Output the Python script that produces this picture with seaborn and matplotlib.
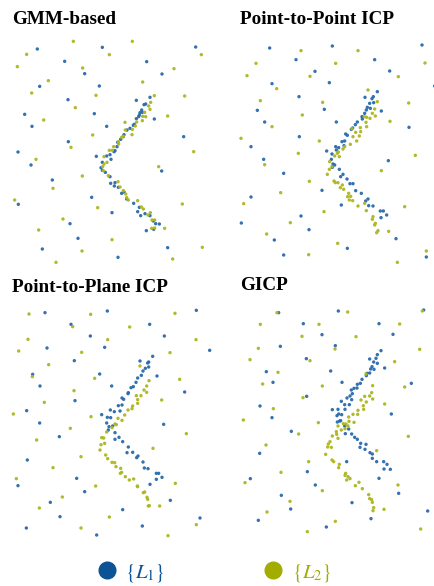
import matplotlib
matplotlib.use("Agg")
import matplotlib.pyplot as plt
import pandas as pd
import seaborn as sns
from matplotlib.lines import Line2D

COLOR_L1 = "#2a6aac"
COLOR_L2 = "#adb720"
LEGEND_L1 = "#0b5394"
LEGEND_L2 = "#a3ad00"

TITLES = ["GMM-based", "Point-to-Point ICP", "Point-to-Plane ICP", "GICP"]
LABELS = [r"$\{L_1\}$", r"$\{L_2\}$"]

# point coordinates per panel (panel-local units, y grows downwards)
GMM_L1 = [
    (112, 147), (307, 142), (587, 141), (194, 184), (440, 185), (254, 221), (486, 222),
    (119, 259), (298, 258), (204, 299), (409, 301), (74, 343), (283, 341), (96, 379),
    (320, 379), (551, 410), (205, 425), (54, 456), (289, 469), (93, 495), (485, 513),
    (157, 540), (275, 592), (55, 613), (336, 638), (210, 671), (439, 692), (234, 715),
    (127, 747), (503, 743), (354, 772), (463, 357),
    (450, 292), (437, 312), (432, 314), (425, 330), (420, 338), (427, 337), (418, 345),
    (409, 356), (416, 350), (403, 373), (400, 376), (390, 385), (381, 390), (372, 404),
    (370, 410), (362, 418), (353, 427), (351, 440), (345, 452), (342, 455), (330, 464),
    (320, 468), (333, 478), (307, 487), (303, 503), (307, 511), (316, 517), (330, 530),
    (332, 550), (345, 548), (343, 558), (355, 562), (365, 580), (372, 576), (380, 597),
    (401, 610), (418, 622), (413, 635), (422, 647), (435, 641), (450, 647), (460, 663),
    (467, 671), (478, 672), (461, 688),
]
GMM_L2 = [
    (220, 124), (397, 124), (80, 163), (328, 164), (604, 164), (52, 200), (248, 204),
    (522, 206), (145, 242), (428, 246), (95, 279), (288, 286), (554, 288), (226, 323),
    (503, 348), (131, 360), (375, 367), (278, 405), (213, 442), (581, 455), (108, 478),
    (476, 500), (247, 528), (159, 565), (44, 600), (547, 612), (293, 623), (189, 657),
    (116, 690), (494, 685), (336, 719), (246, 753), (607, 742), (518, 777), (168, 787),
    (463, 287), (452, 307), (446, 318), (450, 328), (434, 337), (428, 349), (437, 350),
    (427, 362), (410, 366), (406, 378), (397, 388), (396, 404), (376, 390), (370, 409),
    (365, 412), (355, 425), (356, 432), (341, 440), (337, 451), (328, 451), (312, 470),
    (321, 487), (312, 492), (308, 500), (310, 512), (325, 527), (354, 545), (360, 561),
    (370, 572), (377, 582), (380, 593), (385, 600), (413, 602), (424, 621), (430, 627),
    (444, 645), (451, 638), (456, 660), (464, 660), (455, 685), (464, 684),
]
P2P_L1 = [
    (155, 144), (343, 138), (612, 135), (234, 179), (470, 179), (291, 214), (515, 213),
    (162, 251), (334, 248), (243, 290), (118, 331), (319, 328), (490, 333), (140, 366),
    (355, 366), (573, 382), (244, 410), (99, 440), (137, 478), (511, 482), (197, 520),
    (312, 571), (99, 591), (370, 615), (249, 648), (70, 669), (273, 689), (169, 720),
    (534, 716), (388, 745), (197, 765), (625, 771), (650, 258),
    (478, 275), (466, 290), (462, 296), (441, 292), (455, 310), (467, 308), (448, 322),
    (457, 325), (445, 330), (440, 340), (432, 350), (433, 357), (418, 366), (412, 374),
    (400, 388), (404, 384), (383, 402), (388, 406), (380, 423), (372, 425), (378, 437),
    (353, 440), (362, 443), (355, 450), (326, 453), (342, 462), (340, 478), (345, 492),
    (350, 495), (343, 502), (364, 508), (375, 523), (368, 530), (387, 537), (396, 551),
    (405, 551), (413, 572), (430, 580), (450, 597), (443, 603), (452, 617), (465, 618),
    (487, 633), (496, 633), (489, 653), (506, 645),
]
P2P_L2 = [
    (249, 152), (420, 152), (114, 190), (353, 190), (621, 189), (87, 227), (276, 229),
    (541, 230), (176, 266), (127, 302), (314, 307), (572, 309), (253, 345), (516, 364),
    (162, 380), (69, 415), (304, 423), (241, 460), (140, 494), (592, 466), (490, 512),
    (274, 544), (188, 578), (77, 611), (318, 635), (560, 620), (217, 668), (146, 702),
    (512, 694), (359, 730), (272, 764), (625, 753), (538, 787),
    (450, 270), (478, 305), (470, 327), (463, 340), (446, 352), (439, 350), (456, 355),
    (472, 348), (444, 367), (446, 380), (427, 383), (402, 386), (413, 397), (428, 395),
    (424, 408), (405, 410), (416, 423), (397, 433), (380, 440), (375, 447), (361, 456),
    (358, 460), (350, 468), (364, 470), (335, 485), (342, 500), (334, 508), (328, 523),
    (348, 543), (352, 548), (360, 548), (373, 555), (367, 563), (377, 568), (392, 580),
    (389, 590), (398, 589), (394, 600), (404, 602), (420, 618), (440, 610), (445, 632),
    (465, 650), (463, 658), (472, 670), (470, 675), (480, 692), (476, 698),
]
P2PL_L1 = [
    (135, 128), (322, 123), (589, 121), (213, 163), (449, 163), (271, 198), (493, 198),
    (141, 234), (314, 232), (629, 241), (223, 272), (98, 313), (299, 312), (471, 318),
    (120, 348), (335, 348), (554, 366), (225, 392), (80, 422), (491, 463), (119, 459),
    (178, 500), (82, 570), (230, 625), (54, 647), (254, 665), (151, 697), (511, 691),
    (368, 719), (180, 740), (600, 744), (79, 774), (427, 768), (290, 795),
    (458, 259), (446, 276), (443, 279), (420, 273), (436, 295), (446, 291), (429, 303),
    (424, 316), (413, 324), (408, 337), (393, 353), (400, 350), (384, 371), (385, 368),
    (366, 384), (371, 388), (366, 405), (355, 407), (360, 423), (343, 425), (331, 420),
    (322, 442), (332, 443), (305, 434), (320, 459), (327, 470), (325, 480), (338, 468),
    (345, 488), (345, 508), (357, 502), (368, 515), (385, 531), (381, 548), (398, 547),
    (410, 563), (414, 558), (429, 576), (433, 594), (444, 596), (469, 610), (476, 610),
    (469, 628), (486, 622), (450, 643),
]
P2PL_L2 = [
    (87, 132), (272, 133), (525, 130), (218, 170), (389, 171), (84, 208), (323, 209),
    (588, 209), (56, 243), (245, 247), (510, 248), (146, 284), (284, 325), (539, 328),
    (97, 320), (222, 362), (133, 397), (485, 390), (40, 432), (273, 440), (211, 475),
    (559, 491), (110, 510), (459, 535), (243, 560), (159, 593), (49, 626), (287, 648),
    (526, 640), (187, 681), (118, 714), (479, 708), (328, 741), (243, 774), (589, 764),
    (504, 797),
    (420, 288), (447, 332), (440, 348), (440, 367), (432, 360), (423, 377), (409, 377),
    (413, 389), (413, 400), (398, 408), (396, 416), (384, 420), (374, 435), (366, 451),
    (354, 445), (345, 462), (349, 464), (336, 473), (320, 486), (311, 504), (305, 503),
    (303, 524), (300, 540), (314, 520), (317, 555), (323, 566), (336, 577), (344, 578),
    (348, 590), (362, 595), (361, 610), (365, 607), (376, 620), (388, 630), (401, 627),
    (412, 648), (413, 650), (434, 666), (430, 668), (441, 682), (443, 688), (445, 708),
    (448, 707),
]
GICP_L1 = [
    (182, 128), (361, 123), (617, 120), (256, 161), (483, 161), (312, 194), (525, 193),
    (187, 229), (352, 227), (265, 266), (338, 303), (145, 305), (165, 337), (500, 294),
    (372, 337), (266, 379), (580, 340), (126, 408), (162, 443), (520, 432), (220, 484),
    (125, 550), (483, 625), (97, 626), (268, 605), (386, 575), (292, 645), (190, 676),
    (218, 717), (402, 698), (542, 670), (121, 751), (325, 771), (459, 746), (629, 723),
    (489, 242), (478, 254), (474, 265), (455, 267), (467, 276), (478, 280), (462, 290),
    (458, 297), (468, 298), (455, 309), (447, 310), (445, 317), (432, 328), (427, 340),
    (418, 343), (417, 354), (408, 355), (400, 360), (403, 371), (396, 378), (387, 384),
    (401, 389), (370, 394), (380, 404), (394, 404), (381, 418), (360, 418), (343, 419),
    (371, 434), (357, 437), (362, 432), (365, 453), (358, 456), (368, 452), (380, 468),
    (392, 477), (382, 491), (401, 492), (410, 502), (418, 508), (428, 520), (444, 523),
    (426, 532), (441, 538), (456, 548), (463, 552), (463, 565), (476, 575), (497, 575),
    (507, 583), (498, 597), (517, 598),
]
GICP_L2 = [
    (177, 128), (389, 126), (613, 123), (127, 163), (303, 163), (545, 162), (252, 199),
    (414, 200), (121, 235), (351, 237), (605, 238), (96, 269), (276, 272), (530, 275),
    (180, 307), (134, 342), (313, 348), (560, 351), (255, 383), (166, 416), (500, 402),
    (76, 450), (301, 458), (242, 492), (571, 499), (144, 525), (476, 542), (272, 575),
    (189, 607), (81, 638), (313, 662), (540, 645), (216, 694), (147, 726), (498, 718),
    (352, 754), (268, 785), (608, 777),
    (444, 312), (464, 347), (461, 368), (455, 378), (440, 379), (464, 387), (429, 390),
    (445, 396), (436, 407), (437, 418), (420, 421), (405, 433), (419, 433), (392, 441),
    (408, 457), (393, 454), (384, 462), (390, 468), (376, 461), (381, 476), (370, 480),
    (360, 468), (355, 485), (343, 498), (356, 493), (360, 505), (336, 515), (331, 522),
    (329, 531), (340, 532), (323, 553), (342, 570), (347, 575), (364, 583), (362, 593),
    (383, 610), (381, 616), (390, 620), (386, 630), (396, 626), (423, 637), (412, 647),
    (433, 656), (452, 674), (455, 686), (461, 689), (463, 697), (467, 713), (465, 722),
]

PANELS = [(GMM_L1, GMM_L2), (P2P_L1, P2P_L2), (P2PL_L1, P2PL_L2), (GICP_L1, GICP_L2)]


def build_frame():
    rows = []
    for title, (pts1, pts2) in zip(TITLES, PANELS):
        for set_name, pts in (("L1", pts1), ("L2", pts2)):
            for x, y in pts:
                rows.append({"panel": title, "set": set_name, "x": x, "y": y})
    return pd.DataFrame(rows)


def main():
    data = build_frame()
    sns.set_theme(style="white")
    plt.rcParams["mathtext.fontset"] = "stix"

    W, H = 435, 586
    fig = plt.figure(figsize=(W / 100, H / 100), dpi=100, facecolor="white")

    # panel boxes in pixels: left, top, width, height, data width, data height
    boxes = [
        (0, 0, 218, 270, 654, 810),
        (218, 0, 217, 270, 651, 810),
        (0, 270, 218, 280, 654, 840),
        (218, 270, 217, 280, 651, 840),
    ]
    title_pos = [(12, 19), (240, 19), (12, 287), (240, 286)]
    palette = {"L1": COLOR_L1, "L2": COLOR_L2}

    for title, (left, top, w, h, dw, dh), (tx, ty) in zip(TITLES, boxes, title_pos):
        ax = fig.add_axes([left / W, 1 - (top + h) / H, w / W, h / H])
        sub = data[data["panel"] == title]
        sns.scatterplot(
            data=sub, x="x", y="y", hue="set", palette=palette,
            marker="o", s=6, linewidth=0, alpha=0.95, legend=False, ax=ax,
        )
        ax.set_xlim(0, dw)
        ax.set_ylim(dh, 0)
        ax.set_axis_off()
        fig.text(
            tx / W, 1 - ty / H, title, ha="left", va="center",
            fontsize=13.8, fontweight="bold", family="Liberation Serif", color="black",
        )

    handles = [
        Line2D([], [], marker="o", linestyle="", markersize=12, color=LEGEND_L1),
        Line2D([], [], marker="o", linestyle="", markersize=12, color=LEGEND_L2),
    ]
    leg = fig.legend(
        handles, LABELS, loc="center", bbox_to_anchor=(214 / W, 1 - 573 / H),
        ncol=2, frameon=False, fontsize=15, handlelength=1.0,
        handletextpad=0.4, columnspacing=4.7,
    )
    for text, c in zip(leg.get_texts(), [LEGEND_L1, LEGEND_L2]):
        text.set_color(c)

    fig.savefig("out.png", dpi=100, facecolor="white")
    plt.close(fig)


if __name__ == "__main__":
    main()
